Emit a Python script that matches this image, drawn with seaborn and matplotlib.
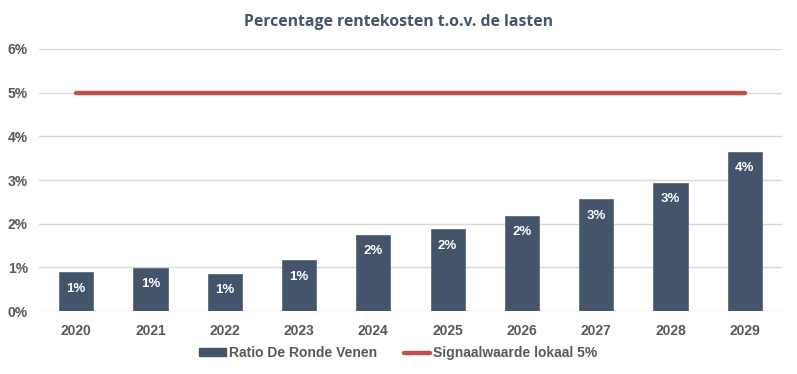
import matplotlib
matplotlib.use("Agg")
import matplotlib.pyplot as plt
import seaborn as sns
import pandas as pd
import numpy as np
from matplotlib.lines import Line2D
from matplotlib.patches import Patch

years = ["2020", "2021", "2022", "2023", "2024", "2025", "2026", "2027", "2028", "2029"]
ratio = [0.89, 0.99, 0.85, 1.16, 1.74, 1.87, 2.18, 2.56, 2.93, 3.64]
signal = [5.0] * len(years)
yticks = [0, 1, 2, 3, 4, 5, 6]

bar_color = "#44546A"
line_color = "#C0504D"
text_grey = "#595959"

sns.set_theme(style="white")
plt.rcParams["font.family"] = ["Liberation Sans", "DejaVu Sans"]

df = pd.DataFrame({"year": years, "ratio": ratio})

fig = plt.figure(figsize=(7.97, 3.74), dpi=100)
ax = fig.add_axes([0.049, 0.168, 0.932, 0.701])

sns.barplot(data=df, x="year", y="ratio", color=bar_color, saturation=1,
            width=0.46, ax=ax, zorder=3, edgecolor="#5B6B82", linewidth=0.6)

pos = np.arange(len(years))
ax.plot(pos, signal, color=line_color, lw=3.2, solid_capstyle="round", zorder=4)

ax.bar_label(ax.containers[0], labels=[f"{v:.0f}%" for v in ratio],
             padding=-16, color="white", fontweight="bold", fontsize=9.5)

ax.set_xlim(-0.5, len(years) - 0.5)
ax.set_ylim(0, 6)
ax.set_yticks(yticks)
ax.set_yticklabels([f"{t}%" for t in yticks])
ax.yaxis.grid(True, color="#D9D9D9", lw=1.0, zorder=0)
ax.set_axisbelow(True)
for s in ax.spines.values():
    s.set_visible(False)
ax.set_xlabel("")
ax.set_ylabel("")
ax.tick_params(axis="both", length=0, labelsize=10, labelcolor=text_grey)
ax.tick_params(axis="x", pad=9)
ax.tick_params(axis="y", pad=8)
for lbl in ax.get_xticklabels() + ax.get_yticklabels():
    lbl.set_fontweight("bold")

fig.text(0.5, 0.94, "Percentage rentekosten t.o.v. de lasten", ha="center", va="center",
         fontsize=11.3, fontweight="bold", color="#44546A", family=["Open Sans", "DejaVu Sans"])

handles = [Patch(facecolor=bar_color, edgecolor=bar_color),
           Line2D([0], [0], color=line_color, lw=3.2)]
leg = fig.legend(handles, ["Ratio De Ronde Venen", "Signaalwaarde lokaal 5%"],
                 loc="center", bbox_to_anchor=(0.5, 0.056), ncol=2, frameon=False,
                 handlelength=1.9, handleheight=0.45, columnspacing=1.9, handletextpad=0.25,
                 prop={"weight": "bold", "size": 10})
for t in leg.get_texts():
    t.set_color(text_grey)

fig.savefig("out.png", dpi=100)
